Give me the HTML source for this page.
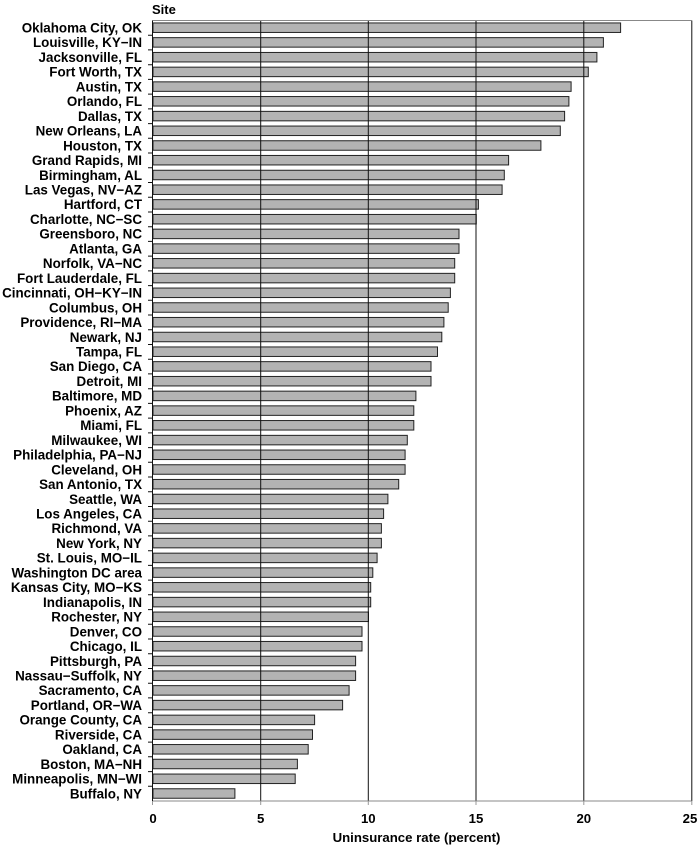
<!DOCTYPE html>
<html><head><style>
html,body{margin:0;padding:0;background:#fff;}
svg{display:block;font-family:"Liberation Sans",Arial,sans-serif;}
.l{font-size:13.4px;font-weight:bold;text-anchor:end;fill:#000;}
.b{fill:#b3b3b3;stroke:#222;stroke-width:1;}
</style></head><body>
<svg width="700" height="850" viewBox="0 0 700 850">
<text x="152" y="14" style="font-size:13px;font-weight:bold">Site</text>
<g transform="translate(0,27.7)"><text class="l" x="142" y="4.8">Oklahoma City, OK</text><rect class="b" x="153" y="-4.75" width="467.6" height="9.5"/></g>
<g transform="translate(0,42.4)"><text class="l" x="142" y="4.8">Louisville, KY−IN</text><rect class="b" x="153" y="-4.75" width="450.4" height="9.5"/></g>
<g transform="translate(0,57.2)"><text class="l" x="142" y="4.8">Jacksonville, FL</text><rect class="b" x="153" y="-4.75" width="443.9" height="9.5"/></g>
<g transform="translate(0,71.9)"><text class="l" x="142" y="4.8">Fort Worth, TX</text><rect class="b" x="153" y="-4.75" width="435.3" height="9.5"/></g>
<g transform="translate(0,86.6)"><text class="l" x="142" y="4.8">Austin, TX</text><rect class="b" x="153" y="-4.75" width="418.1" height="9.5"/></g>
<g transform="translate(0,101.3)"><text class="l" x="142" y="4.8">Orlando, FL</text><rect class="b" x="153" y="-4.75" width="415.9" height="9.5"/></g>
<g transform="translate(0,116.1)"><text class="l" x="142" y="4.8">Dallas, TX</text><rect class="b" x="153" y="-4.75" width="411.6" height="9.5"/></g>
<g transform="translate(0,130.8)"><text class="l" x="142" y="4.8">New Orleans, LA</text><rect class="b" x="153" y="-4.75" width="407.3" height="9.5"/></g>
<g transform="translate(0,145.5)"><text class="l" x="142" y="4.8">Houston, TX</text><rect class="b" x="153" y="-4.75" width="387.9" height="9.5"/></g>
<g transform="translate(0,160.2)"><text class="l" x="142" y="4.8">Grand Rapids, MI</text><rect class="b" x="153" y="-4.75" width="355.6" height="9.5"/></g>
<g transform="translate(0,175.0)"><text class="l" x="142" y="4.8">Birmingham, AL</text><rect class="b" x="153" y="-4.75" width="351.3" height="9.5"/></g>
<g transform="translate(0,189.7)"><text class="l" x="142" y="4.8">Las Vegas, NV−AZ</text><rect class="b" x="153" y="-4.75" width="349.1" height="9.5"/></g>
<g transform="translate(0,204.4)"><text class="l" x="142" y="4.8">Hartford, CT</text><rect class="b" x="153" y="-4.75" width="325.4" height="9.5"/></g>
<g transform="translate(0,219.2)"><text class="l" x="142" y="4.8">Charlotte, NC−SC</text><rect class="b" x="153" y="-4.75" width="323.3" height="9.5"/></g>
<g transform="translate(0,233.9)"><text class="l" x="142" y="4.8">Greensboro, NC</text><rect class="b" x="153" y="-4.75" width="306.0" height="9.5"/></g>
<g transform="translate(0,248.6)"><text class="l" x="142" y="4.8">Atlanta, GA</text><rect class="b" x="153" y="-4.75" width="306.0" height="9.5"/></g>
<g transform="translate(0,263.3)"><text class="l" x="142" y="4.8">Norfolk, VA−NC</text><rect class="b" x="153" y="-4.75" width="301.7" height="9.5"/></g>
<g transform="translate(0,278.1)"><text class="l" x="142" y="4.8">Fort Lauderdale, FL</text><rect class="b" x="153" y="-4.75" width="301.7" height="9.5"/></g>
<g transform="translate(0,292.8)"><text class="l" x="142" y="4.8">Cincinnati, OH−KY−IN</text><rect class="b" x="153" y="-4.75" width="297.4" height="9.5"/></g>
<g transform="translate(0,307.5)"><text class="l" x="142" y="4.8">Columbus, OH</text><rect class="b" x="153" y="-4.75" width="295.2" height="9.5"/></g>
<g transform="translate(0,322.2)"><text class="l" x="142" y="4.8">Providence, RI−MA</text><rect class="b" x="153" y="-4.75" width="290.9" height="9.5"/></g>
<g transform="translate(0,337.0)"><text class="l" x="142" y="4.8">Newark, NJ</text><rect class="b" x="153" y="-4.75" width="288.8" height="9.5"/></g>
<g transform="translate(0,351.7)"><text class="l" x="142" y="4.8">Tampa, FL</text><rect class="b" x="153" y="-4.75" width="284.5" height="9.5"/></g>
<g transform="translate(0,366.4)"><text class="l" x="142" y="4.8">San Diego, CA</text><rect class="b" x="153" y="-4.75" width="278.0" height="9.5"/></g>
<g transform="translate(0,381.2)"><text class="l" x="142" y="4.8">Detroit, MI</text><rect class="b" x="153" y="-4.75" width="278.0" height="9.5"/></g>
<g transform="translate(0,395.9)"><text class="l" x="142" y="4.8">Baltimore, MD</text><rect class="b" x="153" y="-4.75" width="262.9" height="9.5"/></g>
<g transform="translate(0,410.6)"><text class="l" x="142" y="4.8">Phoenix, AZ</text><rect class="b" x="153" y="-4.75" width="260.8" height="9.5"/></g>
<g transform="translate(0,425.3)"><text class="l" x="142" y="4.8">Miami, FL</text><rect class="b" x="153" y="-4.75" width="260.8" height="9.5"/></g>
<g transform="translate(0,440.1)"><text class="l" x="142" y="4.8">Milwaukee, WI</text><rect class="b" x="153" y="-4.75" width="254.3" height="9.5"/></g>
<g transform="translate(0,454.8)"><text class="l" x="142" y="4.8">Philadelphia, PA−NJ</text><rect class="b" x="153" y="-4.75" width="252.1" height="9.5"/></g>
<g transform="translate(0,469.5)"><text class="l" x="142" y="4.8">Cleveland, OH</text><rect class="b" x="153" y="-4.75" width="252.1" height="9.5"/></g>
<g transform="translate(0,484.2)"><text class="l" x="142" y="4.8">San Antonio, TX</text><rect class="b" x="153" y="-4.75" width="245.7" height="9.5"/></g>
<g transform="translate(0,499.0)"><text class="l" x="142" y="4.8">Seattle, WA</text><rect class="b" x="153" y="-4.75" width="234.9" height="9.5"/></g>
<g transform="translate(0,513.7)"><text class="l" x="142" y="4.8">Los Angeles, CA</text><rect class="b" x="153" y="-4.75" width="230.6" height="9.5"/></g>
<g transform="translate(0,528.4)"><text class="l" x="142" y="4.8">Richmond, VA</text><rect class="b" x="153" y="-4.75" width="228.4" height="9.5"/></g>
<g transform="translate(0,543.1)"><text class="l" x="142" y="4.8">New York, NY</text><rect class="b" x="153" y="-4.75" width="228.4" height="9.5"/></g>
<g transform="translate(0,557.9)"><text class="l" x="142" y="4.8">St. Louis, MO−IL</text><rect class="b" x="153" y="-4.75" width="224.1" height="9.5"/></g>
<g transform="translate(0,572.6)"><text class="l" x="142" y="4.8">Washington DC area</text><rect class="b" x="153" y="-4.75" width="219.8" height="9.5"/></g>
<g transform="translate(0,587.3)"><text class="l" x="142" y="4.8">Kansas City, MO−KS</text><rect class="b" x="153" y="-4.75" width="217.7" height="9.5"/></g>
<g transform="translate(0,602.1)"><text class="l" x="142" y="4.8">Indianapolis, IN</text><rect class="b" x="153" y="-4.75" width="217.7" height="9.5"/></g>
<g transform="translate(0,616.8)"><text class="l" x="142" y="4.8">Rochester, NY</text><rect class="b" x="153" y="-4.75" width="215.5" height="9.5"/></g>
<g transform="translate(0,631.5)"><text class="l" x="142" y="4.8">Denver, CO</text><rect class="b" x="153" y="-4.75" width="209.0" height="9.5"/></g>
<g transform="translate(0,646.2)"><text class="l" x="142" y="4.8">Chicago, IL</text><rect class="b" x="153" y="-4.75" width="209.0" height="9.5"/></g>
<g transform="translate(0,661.0)"><text class="l" x="142" y="4.8">Pittsburgh, PA</text><rect class="b" x="153" y="-4.75" width="202.6" height="9.5"/></g>
<g transform="translate(0,675.7)"><text class="l" x="142" y="4.8">Nassau−Suffolk, NY</text><rect class="b" x="153" y="-4.75" width="202.6" height="9.5"/></g>
<g transform="translate(0,690.4)"><text class="l" x="142" y="4.8">Sacramento, CA</text><rect class="b" x="153" y="-4.75" width="196.1" height="9.5"/></g>
<g transform="translate(0,705.1)"><text class="l" x="142" y="4.8">Portland, OR−WA</text><rect class="b" x="153" y="-4.75" width="189.6" height="9.5"/></g>
<g transform="translate(0,719.9)"><text class="l" x="142" y="4.8">Orange County, CA</text><rect class="b" x="153" y="-4.75" width="161.6" height="9.5"/></g>
<g transform="translate(0,734.6)"><text class="l" x="142" y="4.8">Riverside, CA</text><rect class="b" x="153" y="-4.75" width="159.5" height="9.5"/></g>
<g transform="translate(0,749.3)"><text class="l" x="142" y="4.8">Oakland, CA</text><rect class="b" x="153" y="-4.75" width="155.2" height="9.5"/></g>
<g transform="translate(0,764.0)"><text class="l" x="142" y="4.8">Boston, MA−NH</text><rect class="b" x="153" y="-4.75" width="144.4" height="9.5"/></g>
<g transform="translate(0,778.8)"><text class="l" x="142" y="4.8">Minneapolis, MN−WI</text><rect class="b" x="153" y="-4.75" width="142.2" height="9.5"/></g>
<g transform="translate(0,793.5)"><text class="l" x="142" y="4.8">Buffalo, NY</text><rect class="b" x="153" y="-4.75" width="81.9" height="9.5"/></g>
<g stroke="#111" stroke-width="1">
<line x1="260.7" y1="20.5" x2="260.7" y2="801"/>
<line x1="368.3" y1="20.5" x2="368.3" y2="801"/>
<line x1="476" y1="20.5" x2="476" y2="801"/>
<line x1="583.8" y1="20.5" x2="583.8" y2="801"/>
<line x1="691.8" y1="20.5" x2="691.8" y2="801"/>
<line x1="152.5" y1="20.5" x2="691.8" y2="20.5" stroke="#888"/>
<line x1="152.5" y1="801" x2="691.8" y2="801" stroke="#888"/>
<line x1="152.5" y1="20.5" x2="152.5" y2="801"/>
<path stroke="#999" d="M152.5 801V805M260.7 801V805M368.3 801V805M476 801V805M583.8 801V805M691.8 801V805"/>
<path d="M148 35.2H153M148 49.9H153M148 64.7H153M148 79.4H153M148 94.1H153M148 108.9H153M148 123.6H153M148 138.3H153M148 153.0H153M148 167.8H153M148 182.5H153M148 197.2H153M148 212.0H153M148 226.7H153M148 241.4H153M148 256.1H153M148 270.9H153M148 285.6H153M148 300.3H153M148 315.0H153M148 329.8H153M148 344.5H153M148 359.2H153M148 373.9H153M148 388.7H153M148 403.4H153M148 418.1H153M148 432.9H153M148 447.6H153M148 462.3H153M148 477.0H153M148 491.8H153M148 506.5H153M148 521.2H153M148 535.9H153M148 550.7H153M148 565.4H153M148 580.1H153M148 594.8H153M148 609.6H153M148 624.3H153M148 639.0H153M148 653.8H153M148 668.5H153M148 683.2H153M148 697.9H153M148 712.7H153M148 727.4H153M148 742.1H153M148 756.8H153M148 771.6H153M148 786.3H153"/>
</g>
<g font-size="13.2" font-weight="bold" text-anchor="middle">
<text x="153" y="823">0</text>
<text x="260.7" y="823">5</text>
<text x="368.3" y="823">10</text>
<text x="476" y="823">15</text>
<text x="583.8" y="823">20</text>
<text x="690" y="823">25</text>
<text x="416.5" y="842">Uninsurance rate (percent)</text>
</g>
</svg>
</body></html>
